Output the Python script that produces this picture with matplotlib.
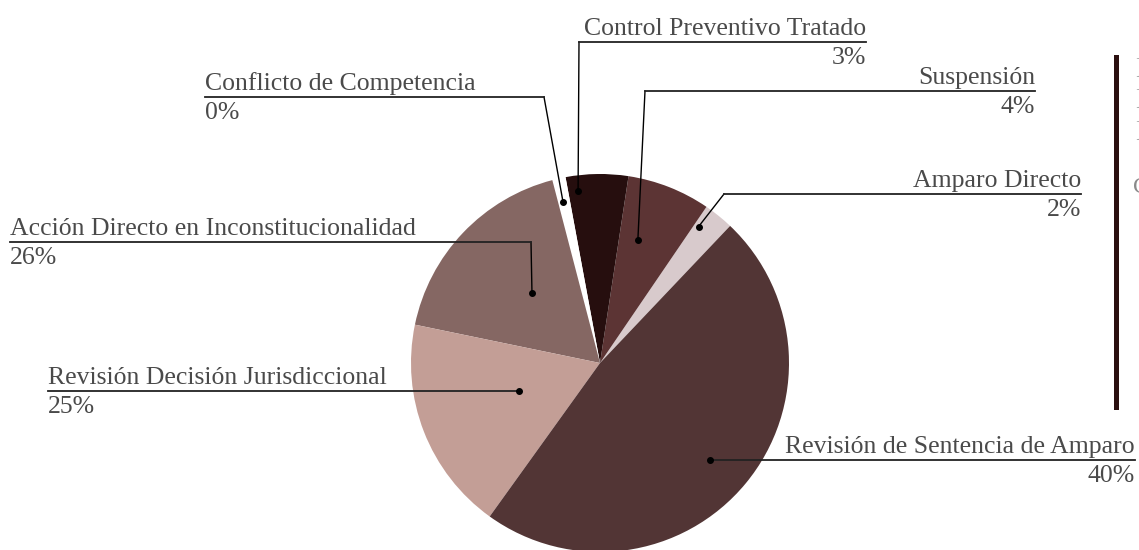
import numpy as np
import matplotlib.pyplot as plt
from matplotlib.patches import Rectangle

# slices, counter-clockwise from the Amparo Directo wedge
labels = ["Amparo Directo", "Suspensión", "Control Preventivo Tratado",
          "Conflicto de Competencia", "Acción Directo en Inconstitucionalidad",
          "Revisión Decisión Jurisdiccional", "Revisión de Sentencia de Amparo"]
pct_labels = ["2%", "4%", "3%", "0%", "26%", "25%", "40%"]
# slice sizes as drawn in the picture (the printed % do not match them)
values = [2.56, 7.11, 5.33, 1.14, 17.69, 18.33, 47.83]
colors = ["#d8cacc", "#5c3434", "#260e0e", "#ffffff", "#856763", "#c39e96", "#523535"]

W, H = 1139, 550

# leader layout: where the dot sits inside its wedge (angle fraction, radius fraction),
# elbow (px, from top) or None, end x of the underline, side of the text
dot_ang = [0.83, 0.67, 0.83, 0.59, 0.465, 0.467, 0.49]
dot_frac = [0.89, 0.68, 0.92, 0.875, 0.516, 0.453, 0.776]
elbows = [(724, 194), (645, 91), (579, 42), (544, 97), (531, 242), None, None]
line_end = [1081, 1035, 866, 205, 10, 48, 1135]
side = ["right", "right", "right", "left", "left", "left", "right"]

cx, cy, r = 600, 363, 189


def flip(y):
    return H - y


fig = plt.figure(figsize=(W / 100, H / 100), dpi=100)
ax = fig.add_axes([0, 0, 1, 1])

wedges, _ = ax.pie(values, colors=colors, startangle=46.5, counterclock=True,
                   center=(cx, flip(cy)), radius=r, wedgeprops=dict(linewidth=0))

font = dict(family=["Liberation Serif", "DejaVu Serif"], size=18.5, color="#4a4a4a")

for i, w in enumerate(wedges):
    ang = np.deg2rad(w.theta1 + dot_ang[i] * (w.theta2 - w.theta1))
    dx = cx + dot_frac[i] * r * np.cos(ang)
    dy = flip(cy) + dot_frac[i] * r * np.sin(ang)
    if elbows[i] is None:
        ex, ey = dx, dy
    else:
        ex, ey = elbows[i][0], flip(elbows[i][1])
    ax.plot([dx, ex], [dy, ey], color="black", lw=1)
    ax.plot([ex, line_end[i]], [ey, ey], color="#222222", lw=1.3)
    ax.plot(dx, dy, "o", color="black", ms=4)
    ha = "left" if side[i] == "left" else "right"
    ax.text(line_end[i], ey + 7, labels[i], ha=ha, va="baseline", **font)
    ax.text(line_end[i], ey - 5, pct_labels[i], ha=ha, va="top", **font)

# legend on the right, mostly off the edge
ax.add_patch(Rectangle((1114, flip(410)), 5, 355, color="#2b1010", lw=0))
for yy in [57, 88, 120]:
    ax.text(1135, flip(yy), "E", ha="left", va="top",
            family="Liberation Serif", size=21, color="#a8a8a8")
ax.text(1133, flip(177), "C", ha="left", va="top",
        family="Liberation Serif", size=17, color="#8a8a8a")

ax.set_xlim(0, W)
ax.set_ylim(0, H)
ax.axis("off")

plt.savefig("out.png", dpi=100)
